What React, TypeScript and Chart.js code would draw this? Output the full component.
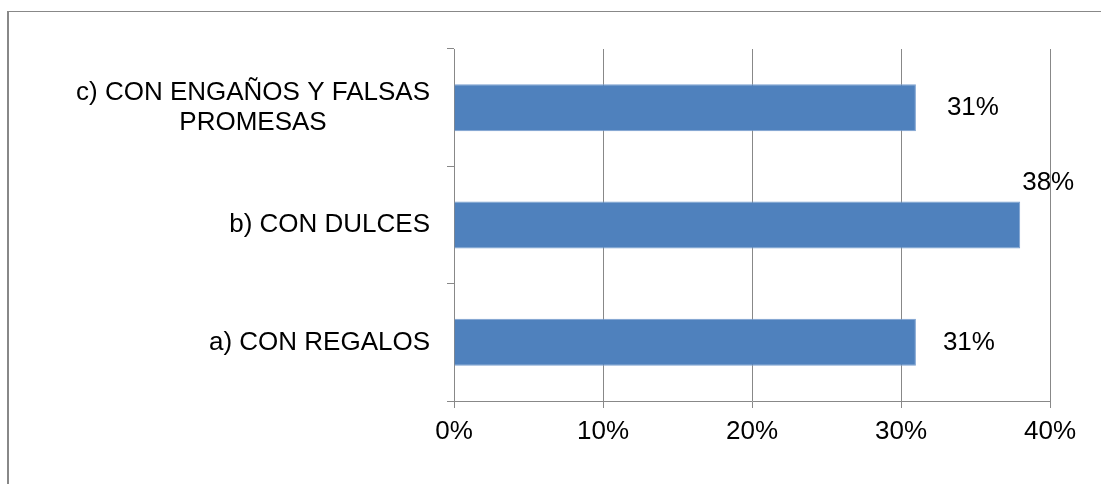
import React, { useEffect, useRef } from "react";
import { Chart, registerables } from "chart.js";

Chart.register(...registerables);

const categories: string[][] = [
  ["a) CON REGALOS"],
  ["b) CON DULCES"],
  ["c) CON ENGAÑOS Y FALSAS", "PROMESAS"],
];
const values: number[] = [31, 38, 31];
const valueLabels: string[] = ["31%", "38%", "31%"];
const xTicks: number[] = [0, 10, 20, 30, 40];

const FONT = '"Liberation Sans", Arial, sans-serif';
const FONT_SIZE = 26;
const GRID = "#888888";

const labelsPlugin = {
  id: "customLabels",
  afterDraw(chart: any) {
    const ctx = chart.ctx;
    const yScale = chart.scales.y;
    const area = chart.chartArea;
    ctx.save();
    ctx.font = `${FONT_SIZE}px ${FONT}`;
    ctx.fillStyle = "#000000";
    ctx.textBaseline = "middle";
    ctx.textAlign = "center";
    // category labels: block right-aligned, lines centered within block
    categories.forEach((lines, i) => {
      const y = yScale.getPixelForValue(i);
      const widest = Math.max(...lines.map((l) => ctx.measureText(l).width));
      const cx = area.left - 24 - widest / 2;
      const lh = 30;
      lines.forEach((line, j) => {
        ctx.fillText(line, cx, y + (j - (lines.length - 1) / 2) * lh);
      });
    });
    // value labels
    const offsets = [
      { dx: 27, dy: 0 },
      { dx: 2, dy: -42 },
      { dx: 31, dy: 0 },
    ];
    ctx.textAlign = "left";
    const meta = chart.getDatasetMeta(0);
    meta.data.forEach((bar: any, i: number) => {
      const o = offsets[i];
      ctx.fillText(valueLabels[i], bar.x + o.dx, bar.y + o.dy);
    });
    ctx.restore();
  },
};

export default function App() {
  const ref = useRef<HTMLCanvasElement>(null);
  useEffect(() => {
    if (!ref.current) return;
    const chart = new Chart(ref.current, {
      type: "bar",
      data: {
        labels: categories.map((c) => c.join(" ")),
        datasets: [
          {
            data: values,
            backgroundColor: "#4F81BD",
            borderColor: "#7A9FCF",
            borderWidth: 1,
            barPercentage: 0.4,
            categoryPercentage: 1,
          },
        ],
      },
      options: {
        indexAxis: "y",
        animation: false,
        responsive: true,
        maintainAspectRatio: false,
        layout: { padding: { top: 49, right: 51, left: 0, bottom: 0 } },
        plugins: { legend: { display: false }, tooltip: { enabled: false } },
        scales: {
          x: {
            min: 0,
            max: 40,
            afterBuildTicks: (scale: any) => {
              scale.ticks = xTicks.map((v) => ({ value: v }));
            },
            afterFit: (scale: any) => {
              scale.height = 83;
            },
            grid: {
              color: GRID,
              lineWidth: 1,
              drawTicks: true,
              tickLength: 7,
              tickColor: GRID,
            },
            border: { color: GRID, width: 1 },
            ticks: {
              callback: (v: any) => `${v}%`,
              color: "#000000",
              font: { family: FONT, size: FONT_SIZE },
              padding: 8,
              maxRotation: 0,
            },
          },
          y: {
            reverse: true,
            afterFit: (scale: any) => {
              scale.width = 454;
            },
            grid: {
              drawOnChartArea: false,
              drawTicks: true,
              tickLength: 7,
              color: GRID,
              tickColor: GRID,
              offset: true,
            },
            border: { color: GRID, width: 1 },
            ticks: { display: false },
          },
        },
      },
      plugins: [labelsPlugin],
    });
    return () => chart.destroy();
  }, []);

  return (
    <div
      style={{
        position: "fixed",
        left: 0,
        top: 0,
        width: 1101,
        height: 484,
        background: "#ffffff",
        overflow: "hidden",
      }}
    >
      <div
        style={{
          position: "absolute",
          left: 7,
          top: 11,
          width: 1200,
          height: 600,
          borderLeft: "2px solid #888888",
          borderTop: "1px solid #888888",
        }}
      />
      <div style={{ position: "absolute", left: 0, top: 0, width: 1101, height: 484 }}>
        <canvas ref={ref} />
      </div>
    </div>
  );
}
